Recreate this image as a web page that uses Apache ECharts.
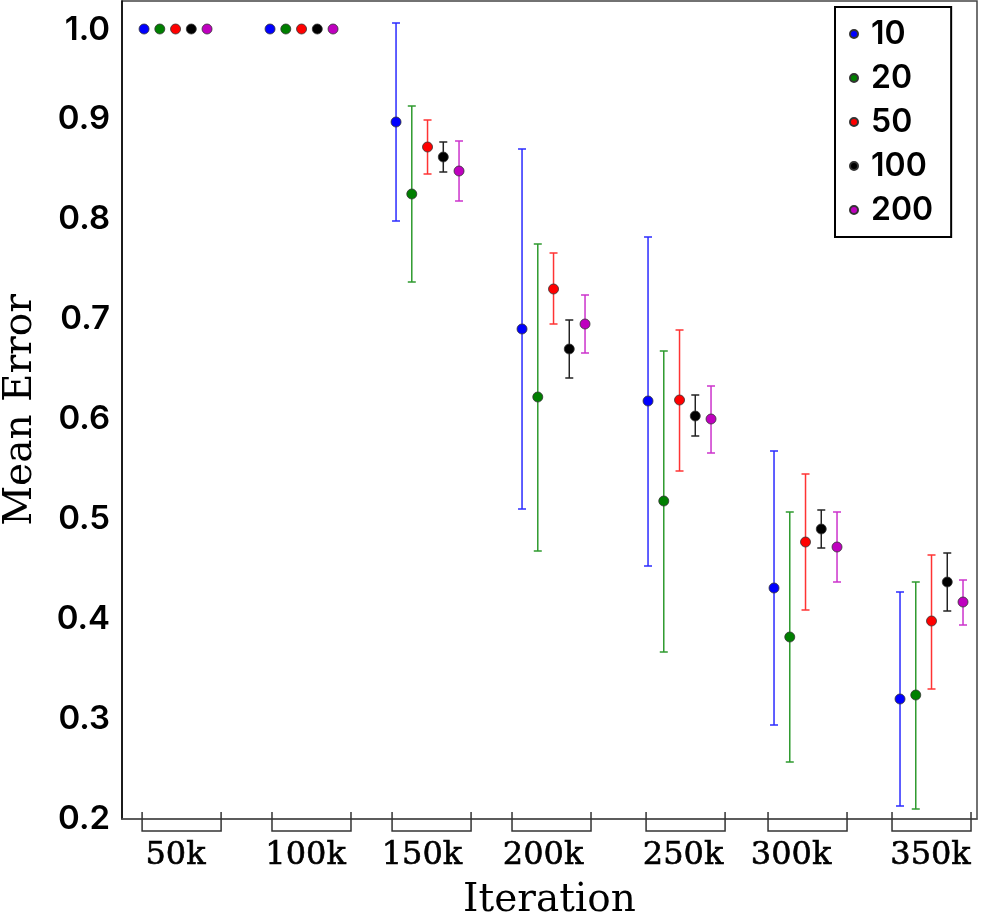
<!DOCTYPE html>
<html>
<head>
<meta charset="utf-8">
<script src="https://cdn.jsdelivr.net/npm/echarts@6/dist/echarts.min.js"></script>
<style>
  html, body { margin: 0; padding: 0; background: #fff; }
  #chart { width: 990px; height: 918px; }
</style>
</head>
<body>
<div id="chart"></div>
<script>
// ---- data ----
const categories = ['50k', '100k', '150k', '200k', '250k', '300k', '350k'];
const seriesNames = ['10', '20', '50', '100', '200'];
// tick (bracket) centres and tick-label centres in x-axis units (groups sit at 1..7)
const tickCenters  = [1.298, 2.329, 3.282, 4.234, 5.298, 6.266, 7.25];
const labelCenters = [1.25, 2.282, 3.206, 4.167, 5.278, 6.135, 7.242];

const mean10  = [0.99, 0.99, 0.897, 0.690, 0.618, 0.431, 0.320];
const low10   = [null, null, 0.798, 0.510, 0.453, 0.294, 0.213];
const up10    = [null, null, 0.996, 0.870, 0.782, 0.568, 0.427];

const mean20  = [0.99, 0.99, 0.825, 0.622, 0.518, 0.382, 0.324];
const low20   = [null, null, 0.737, 0.468, 0.367, 0.257, 0.210];
const up20    = [null, null, 0.913, 0.775, 0.668, 0.507, 0.437];

const mean50  = [0.99, 0.99, 0.872, 0.730, 0.619, 0.477, 0.398];
const low50   = [null, null, 0.845, 0.695, 0.548, 0.409, 0.330];
const up50    = [null, null, 0.899, 0.766, 0.689, 0.545, 0.464];

const mean100 = [0.99, 0.99, 0.862, 0.670, 0.603, 0.490, 0.437];
const low100  = [null, null, 0.847, 0.641, 0.583, 0.471, 0.408];
const up100   = [null, null, 0.877, 0.699, 0.624, 0.509, 0.466];

const mean200 = [0.99, 0.99, 0.848, 0.695, 0.600, 0.472, 0.417];
const low200  = [null, null, 0.818, 0.666, 0.566, 0.437, 0.394];
const up200   = [null, null, 0.878, 0.724, 0.633, 0.507, 0.439];

const yTicks = [0.2, 0.3, 0.4, 0.5, 0.6, 0.7, 0.8, 0.9, 1.0];

// ---- styling ----
const means = [mean10, mean20, mean50, mean100, mean200];
const lows  = [low10, low20, low50, low100, low200];
const ups   = [up10, up20, up50, up100, up200];
const dotColors = ['#0000ff', '#007f00', '#ff0000', '#000000', '#bf00bf'];
const barColors = ['#2b2bff', '#2e9a2e', '#ff3333', '#222222', '#cc33cc'];
const OFFSET = 0.125;
const SANS = 'Inter';
const SERIF = 'DejaVu Serif';

const series = [];

// error bars
seriesNames.forEach((name, j) => {
  const data = [];
  categories.forEach((c, i) => {
    if (lows[j][i] != null && ups[j][i] != null) {
      data.push([i + 1 + j * OFFSET, lows[j][i], ups[j][i]]);
    }
  });
  series.push({
    type: 'custom',
    name: 'err' + name,
    z: 2,
    clip: false,
    silent: true,
    data: data,
    encode: { x: 0, y: [1, 2] },
    renderItem: function (params, api) {
      const x = api.value(0);
      const top = api.coord([x, api.value(2)]);
      const bot = api.coord([x, api.value(1)]);
      const hw = 4;
      const st = { stroke: barColors[j], lineWidth: 1.5 };
      return {
        type: 'group',
        children: [
          { type: 'line', shape: { x1: top[0], y1: top[1], x2: bot[0], y2: bot[1] }, style: st },
          { type: 'line', shape: { x1: top[0] - hw, y1: top[1], x2: top[0] + hw, y2: top[1] }, style: st },
          { type: 'line', shape: { x1: bot[0] - hw, y1: bot[1], x2: bot[0] + hw, y2: bot[1] }, style: st }
        ]
      };
    }
  });
});

// points
seriesNames.forEach((name, j) => {
  series.push({
    type: 'scatter',
    name: name,
    z: 5,
    symbol: 'circle',
    symbolSize: 10,
    itemStyle: { color: dotColors[j], borderColor: '#333', borderWidth: 0.8, opacity: 1 },
    data: categories.map((c, i) => [i + 1 + j * OFFSET, means[j][i]])
  });
});

// bracket ticks + labels under x axis
series.push({
  type: 'custom',
  name: 'ticks',
  z: 3,
  clip: false,
  silent: true,
  data: tickCenters.map((x, i) => [x, 0.2, i, labelCenters[i]]),
  renderItem: function (params, api) {
    const p = api.coord([api.value(0), 0.2]);
    const lp = api.coord([api.value(3), 0.2]);
    const cx = p[0], ay = p[1];
    const hw = 39.5;
    const st = { stroke: '#333', lineWidth: 1.5, fill: null };
    return {
      type: 'group',
      children: [
        { type: 'polyline', shape: { points: [[cx - hw, ay - 7], [cx - hw, ay + 12], [cx + hw, ay + 12], [cx + hw, ay - 7]] }, style: st },
        { type: 'text', style: { text: categories[api.value(2)], x: lp[0], y: ay + 37, align: 'center', verticalAlign: 'middle', font: '32px "' + SERIF + '"', fill: '#000', stroke: '#000', lineWidth: 0.6 } }
      ]
    };
  }
});

const chart = echarts.init(document.getElementById('chart'));
chart.setOption({
  animation: false,
  backgroundColor: '#fff',
  grid: { left: 122, right: 13, top: 1, bottom: 99, containLabel: false, outerBoundsMode: 'none', show: true, borderColor: '#444', borderWidth: 1.5, backgroundColor: 'transparent' },
  legend: {
    data: seriesNames,
    orient: 'vertical',
    left: 835,
    top: 7,
    padding: [11, 18, 11, 14],
    itemGap: 12,
    itemWidth: 24,
    itemHeight: 8,
    icon: 'circle',
    borderColor: '#000',
    borderWidth: 2,
    backgroundColor: '#fff',
    textStyle: { fontFamily: SANS, fontWeight: 600, fontSize: 32, color: '#000', lineHeight: 32 }
  },
  xAxis: {
    type: 'value',
    min: 0.825,
    max: 7.611,
    name: 'Iteration',
    nameLocation: 'middle',
    nameGap: 62,
    nameTextStyle: { fontFamily: SERIF, fontSize: 39, color: '#000' },
    axisLine: { show: true, lineStyle: { color: '#555', width: 1.5 } },
    axisTick: { show: false },
    axisLabel: { show: false },
    splitLine: { show: false }
  },
  yAxis: {
    type: 'value',
    min: 0.2,
    max: 1.018,
    interval: 0.1,
    name: 'Mean Error',
    nameLocation: 'middle',
    nameGap: 82,
    nameTextStyle: { fontFamily: SERIF, fontSize: 39, color: '#000' },
    axisLine: { show: true, lineStyle: { color: '#000', width: 1.5 } },
    axisTick: { show: false },
    splitLine: { show: false },
    axisLabel: {
      margin: 12,
      fontFamily: SANS,
      fontWeight: 600,
      fontSize: 33,
      color: '#000',
      formatter: function (v) {
        const hit = yTicks.find(t => Math.abs(t - v) < 1e-6);
        if (hit === undefined) return '';
        if (hit === 1.0) return '{top|' + hit.toFixed(1) + '}';
        return hit.toFixed(1);
      },
      rich: { top: { fontFamily: SANS, fontWeight: 600, fontSize: 33, color: '#000', padding: [22, 0, 0, 0] } }
    }
  },
  series: series
});
</script>
</body>
</html>
